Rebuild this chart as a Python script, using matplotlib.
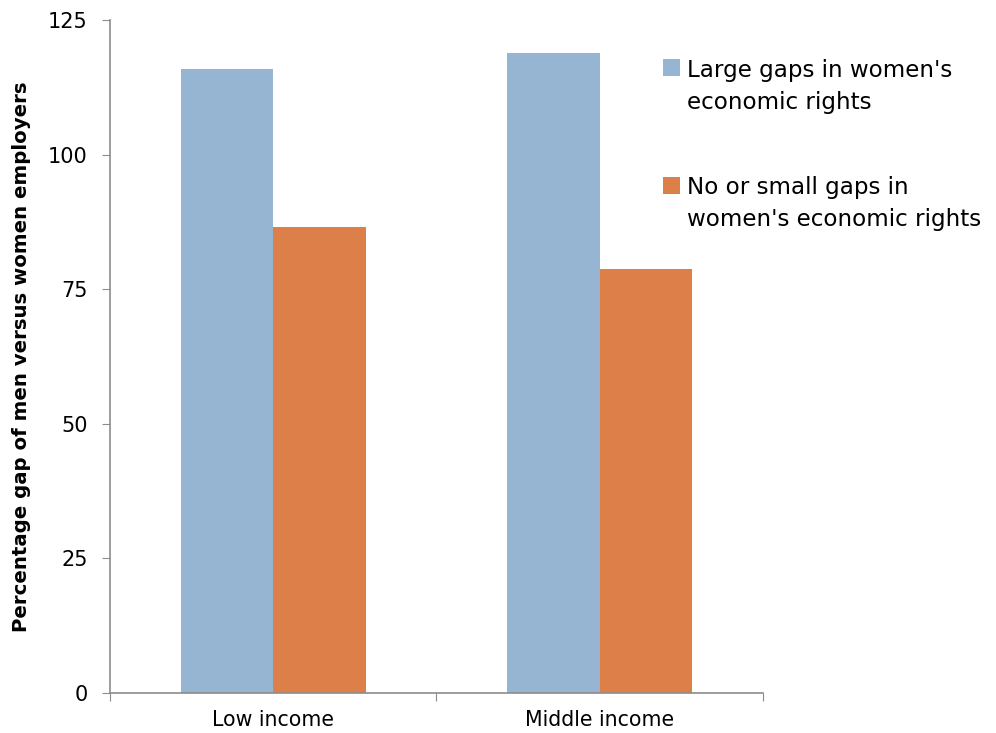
import matplotlib.pyplot as plt
import matplotlib.patches as mpatches
from matplotlib.legend_handler import HandlerPatch
import numpy as np

categories = ["Low income", "Middle income"]
large_gaps = [115.9, 118.9]
small_gaps = [86.6, 78.8]
series_labels = ["Large gaps in women's\neconomic rights",
                 "No or small gaps in\nwomen's economic rights"]

blue = "#95b5d3"
orange = "#dd7f48"
grey = "#8c8c8c"

fig = plt.figure(figsize=(9.96, 7.33), dpi=100)
ax = fig.add_axes([0.1104, 0.0546, 0.6556, 0.9181])

x = np.arange(len(categories))
w = 0.283
b1 = ax.bar(x - w / 2, large_gaps, w, color=blue)
b2 = ax.bar(x + w / 2, small_gaps, w, color=orange)

ax.set_xlim(-0.5, len(categories) - 0.5)
ax.set_ylim(0, 125)
ax.set_yticks([0, 25, 50, 75, 100, 125])
ax.tick_params(axis="y", labelsize=15, length=6, color=grey, pad=10)

ax.set_xticks(np.arange(-0.5, len(categories), 1.0))
ax.set_xticklabels([])
ax.tick_params(axis="x", length=6, color=grey)
ax.set_xticks(x, minor=True)
ax.set_xticklabels(categories, minor=True, fontsize=14.8)
ax.tick_params(axis="x", which="minor", length=0, pad=12)

for s in ["top", "right"]:
    ax.spines[s].set_visible(False)
for s in ["left", "bottom"]:
    ax.spines[s].set_color(grey)
    ax.spines[s].set_linewidth(1.2)

ax.set_ylabel("Percentage gap of men versus women employers",
              fontsize=14.2, fontweight="bold", labelpad=12)


# legend squares sit beside the first line of each label
def top_square(legend, orig_handle, xdescent, ydescent, width, height, fontsize):
    return mpatches.Rectangle((-xdescent, -ydescent + fontsize * 0.85), width, height)


leg = fig.legend(handles=[b1[0], b2[0]], labels=series_labels,
                 loc="upper left", bbox_to_anchor=(0.656, 0.932),
                 frameon=False, fontsize=16.6, handlelength=0.75, handleheight=0.75,
                 handletextpad=0.3, labelspacing=2.7, borderaxespad=0,
                 handler_map={mpatches.Rectangle: HandlerPatch(patch_func=top_square)})
for t in leg.get_texts():
    t.set_linespacing(1.5)

fig.savefig("out.png", dpi=100)
